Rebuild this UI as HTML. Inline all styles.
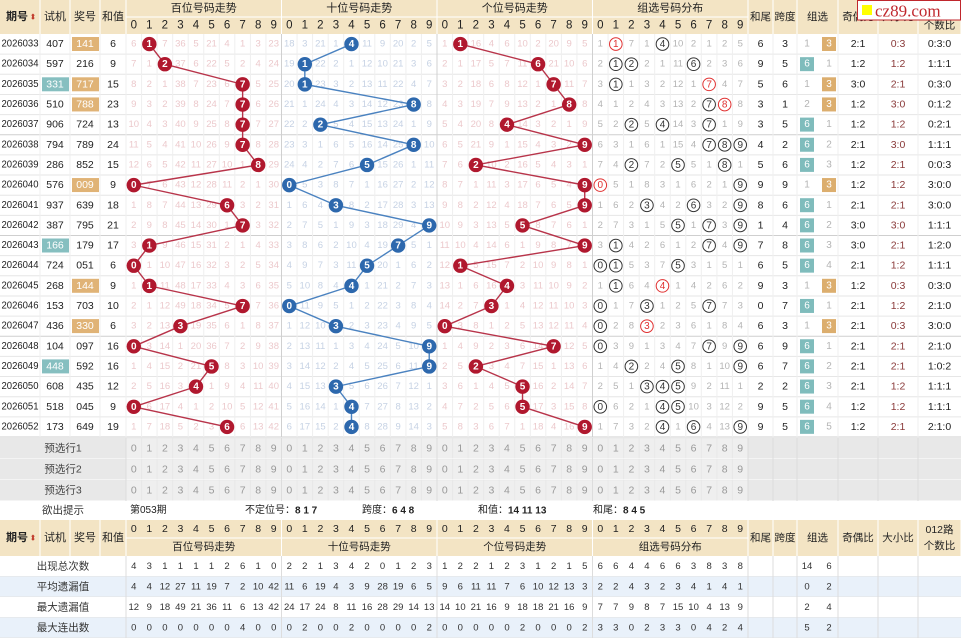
<!DOCTYPE html>
<html><head><meta charset="utf-8">
<style>
html,body{margin:0;padding:0;background:#fff;width:961px;height:638px;overflow:hidden}
svg text{font-family:"Liberation Sans","Noto Sans CJK SC","WenQuanYi Zen Hei",sans-serif}
</style></head><body>
<svg id="s" width="961" height="638" xmlns="http://www.w3.org/2000/svg"></svg>
<script>
var S=document.getElementById('s'),h='';
function R(x,y,w,hh,f,st){h+='<rect x="'+x+'" y="'+y+'" width="'+w+'" height="'+hh+'" fill="'+f+'"'+(st?' stroke="'+st+'" stroke-width="1"':'')+'/>';}
function T(x,y,t,sz,c,anc,wt,tl){h+='<text x="'+x+'" y="'+y+'" font-size="'+sz+'" fill="'+c+'" text-anchor="'+(anc||'middle')+'" dominant-baseline="central"'+(wt?' font-weight="bold"':'')+(tl?' textLength="'+tl+'" lengthAdjust="spacingAndGlyphs"':'')+'>'+t+'</text>';}
function L(x1,y1,x2,y2,c,w){h+='<line x1="'+x1+'" y1="'+y1+'" x2="'+x2+'" y2="'+y2+'" stroke="'+c+'" stroke-width="'+(w||1)+'"/>';}
function C(x,y,r,f,st){h+='<circle cx="'+x+'" cy="'+y+'" r="'+r+'" fill="'+f+'"'+(st?' stroke="'+st+'" stroke-width="1"':'')+'/>';}
var G0=126,CW=15.55,GW=CW*10;
function gx(g){return G0+g*GW;}
function cx(g,d){return gx(g)+CW*d+CW/2;}
var TAN='#f3e4c4',GRID='#e6e6e6';
var cols=[[0,40],[40,70],[70,100],[100,126]];
var rcols=[[748,773],[773,797],[797,838],[838,878],[878,918],[918,961]];
R(0,0,961,34,TAN);
var hl=['期号','试机','奖号','和值'];
for(var i=0;i<4;i++){T((cols[i][0]+cols[i][1])/2-(i==0?3:0),17,hl[i],11,'#222',null,i==0);L(cols[i][1],0,cols[i][1],34,'#fff');}
T(33,17,'⬍',8,'#c0392b');
var gt=['百位号码走势','十位号码走势','个位号码走势','组选号码分布'];
for(var g=0;g<4;g++){T(gx(g)+GW/2,8.5,gt[g],11,'#222');L(gx(g),17,gx(g)+GW,17,'#fff');for(var d=0;d<10;d++){T(cx(g,d),25.5,d,11.5,'#222');}L(gx(g+1),0,gx(g+1),34,'#fff');}
var rl=['和尾','跨度','组选','奇偶比','大小比','012路'];
for(var i=0;i<6;i++){T((rcols[i][0]+rcols[i][1])/2,i==5?8.5:17,rl[i],10.5,'#222');L(rcols[i][1],0,rcols[i][1],34,'#fff');}
T(939.5,25.5,'个数比',10.5,'#222');
var per=[],sj='407,597,331,510,906,794,286,576,937,387,166,724,268,153,436,104,448,608,518,173'.split(','),
jh='141,216,717,788,724,789,852,009,639,795,179,051,144,703,330,097,592,435,045,649'.split(',');
for(var i=0;i<20;i++)per.push(2026033+i);
var sjT={'331':1,'166':1,'448':1};
var RH=20.15,Y0=34;
var prev=[[5,0,6,35,4,20,3,0,2,22],[17,2,20,0,0,10,8,19,1,4],[0,0,15,3,5,9,1,19,8,4],[0,0,6,0,0,9,1,0,1,4]];
var g6=0,g3=-1;
var pts=[[],[],[]];
for(var r=0;r<20;r++){
 var y=Y0+r*RH,yc=y+RH/2;
 L(0,y+RH,961,y+RH,(r%5==4)?'#cfcfcf':GRID);
 var n=jh[r].split('').map(Number),s=n[0]+n[1]+n[2];
 T(1.5,yc,per[r],10,'#222','start',false,37);
 if(sjT[sj[r]]){R(42,y+3,27,14,'#86bfc0');T(55,yc,sj[r],10.5,'#fff');}else T(55,yc,sj[r],10.5,'#222');
 var pair=(n[0]==n[1]||n[1]==n[2]||n[0]==n[2]);
 if(pair){R(72,y+3,27,14,'#e0b376');T(85,yc,jh[r],10.5,'#fff');}else T(85,yc,jh[r],10.5,'#222');
 T(113,yc,s,10.5,'#222');
 for(var p=0;p<3;p++){
  var oc=p==1?'#c6d2e4':'#ecc9cc';
  for(var d=0;d<10;d++){
   if(d==n[p]){prev[p][d]=0;pts[p].push([cx(p,d),yc,d]);}
   else{prev[p][d]++;T(cx(p,d),yc,prev[p][d],9.5,oc);}
  }
 }
 var cnt=[0,0,0,0,0,0,0,0,0,0];n.forEach(function(v){cnt[v]++;});
 for(var d=0;d<10;d++){
  if(cnt[d]){prev[3][d]=0;var rc=cnt[d]>1?'#e03030':'#333';C(cx(3,d),yc,6.3,'#fff',rc);T(cx(3,d),yc+0.5,d,10,rc);}
  else{prev[3][d]++;T(cx(3,d),yc,prev[3][d],9.5,'#b4b4b4');}
 }
 T(760.5,yc,s%10,10.5,'#222');
 T(785,yc,Math.max.apply(null,n)-Math.min.apply(null,n),10.5,'#222');
 if(pair){g3=0;g6++;T(807,yc,g6,10,'#b4b4b4');R(822,y+3,14,14,'#dcae6e');T(829,yc,'3',10,'#fff');}
 else{g6=0;g3++;R(800,y+3,14,14,'#7fbcbc');T(807,yc,'6',10,'#fff');T(829,yc,g3,10,'#b4b4b4');}
 var od=n.filter(function(v){return v%2}).length,bg=n.filter(function(v){return v>=5}).length;
 var m0=n.filter(function(v){return v%3==0}).length,m1=n.filter(function(v){return v%3==1}).length;
 T(858,yc,od+':'+(3-od),10.5,'#222');T(898,yc,bg+':'+(3-bg),10.5,'#8a3a3a');T(939.5,yc,m0+':'+m1+':'+(3-m0-m1),10.5,'#222');
}
var vx=[40,70,100,126,748,773,797,838,878,918];
for(var g=0;g<4;g++)for(var d=1;d<10;d++)vx.push(gx(g)+CW*d);
vx.forEach(function(x){L(x,34,x,437,'#efefef');});
[gx(1),gx(2),gx(3)].forEach(function(x){L(x,34,x,437,'#d0d0d0');});
for(var p=0;p<3;p++){
 var lc=p==1?'#4a82c0':'#b8344a',bc=p==1?'#2d68ad':'#b0182e';
 for(var i=1;i<20;i++)L(pts[p][i-1][0],pts[p][i-1][1],pts[p][i][0],pts[p][i][1],lc,1.4);
 pts[p].forEach(function(q){C(q[0],q[1],7.2,bc);T(q[0],q[1]+0.5,q[2],10,'#fff',null,true);});
}
var py=[438,459,480];
for(var k=0;k<3;k++){
 var y=py[k];R(0,y,961,21,'#e8e8e8');L(0,y+21,961,y+21,'#fff');
 T(63,y+10.5,'预选行'+(k+1),10.5,'#444');
 for(var g=0;g<4;g++)for(var d=0;d<10;d++){R(gx(g)+CW*d+0.5,y+0.5,CW-1,20,'#efefef');T(cx(g,d),y+10.5,d,10.5,'#999');}
}
R(0,501,961,19,'#fff');
T(63,510.5,'欲出提示',10.5,'#333');
T(130,510.5,'第053期',10,'#222','start');
T(245,510.5,'不定位号：<tspan font-weight="bold">8 1 7</tspan>',10,'#222','start');
T(362,510.5,'跨度：<tspan font-weight="bold">6 4 8</tspan>',10,'#222','start');
T(478,510.5,'和值：<tspan font-weight="bold">14 11 13</tspan>',10,'#222','start');
T(593,510.5,'和尾：<tspan font-weight="bold">8 4 5</tspan>',10,'#222','start');
R(0,520,961,36,TAN);
for(var i=0;i<4;i++){T((cols[i][0]+cols[i][1])/2-(i==0?3:0),538,hl[i],11,'#222',null,i==0);L(cols[i][1],520,cols[i][1],556,'#fff');}
T(33,538,'⬍',8,'#c0392b');
for(var g=0;g<4;g++){for(var d=0;d<10;d++)T(cx(g,d),529,d,10.5,'#222');L(gx(g),538,gx(g)+GW,538,'#fff');T(gx(g)+GW/2,547,gt[g],10.5,'#222');L(gx(g+1),520,gx(g+1),556,'#fff');}
for(var i=0;i<6;i++){T((rcols[i][0]+rcols[i][1])/2,i==5?530:538,rl[i],10.5,'#222');L(rcols[i][1],520,rcols[i][1],556,'#fff');}
T(939.5,546,'个数比',10.5,'#222');
var st=[
['出现总次数','4 3 1 1 1 1 2 6 1 0','2 2 1 3 4 2 0 1 2 3','1 2 2 1 2 3 1 2 1 5','6 6 4 4 6 6 3 8 3 8','14 6'],
['平均遗漏值','4 4 12 27 11 19 7 2 10 42','11 6 19 4 3 9 28 19 6 5','9 6 11 11 7 6 10 12 13 3','2 2 4 3 2 3 4 1 4 1','0 2'],
['最大遗漏值','12 9 18 49 21 36 11 6 13 42','24 17 24 8 11 16 28 29 14 13','14 10 21 16 9 18 18 21 16 9','7 7 9 8 7 15 10 4 13 9','2 4'],
['最大连出数','0 0 0 0 0 0 0 4 0 0','0 2 0 0 2 0 0 0 0 2','0 0 0 0 0 2 0 0 0 2','3 3 0 2 3 3 0 4 2 4','5 2']];
for(var k=0;k<4;k++){
 var y=556+k*20.5,yc=y+10.25;
 R(0,y,961,20.5,k%2?'#e9f1fa':'#fff');L(0,y+20.5,961,y+20.5,'#e2e2e2');
 T(63,yc,st[k][0],10.5,'#333');
 for(var g=0;g<4;g++){var a=st[k][g+1].split(' ');for(var d=0;d<10;d++)T(cx(g,d),yc,a[d],9.5,'#333');}
 var b=st[k][5].split(' ');T(807,yc,b[0],9.5,'#333');T(829,yc,b[1],9.5,'#333');
}
var bx=[126,748,773,797,838,878,918];for(var g=1;g<4;g++)bx.push(gx(g));
bx.forEach(function(x){L(x,556,x,638,'#ddd');L(x,438,x,501,'#ddd');});
R(857.5,0.5,103,19.5,'#fff','#c0272d');R(862,5,10,10,'#ffff00');
h+='<text x="875" y="11" font-size="17" fill="#c0272d" dominant-baseline="central" style="font-family:\'Liberation Serif\',serif">cz89.com</text>';
S.innerHTML=h;
</script>
</body></html>
